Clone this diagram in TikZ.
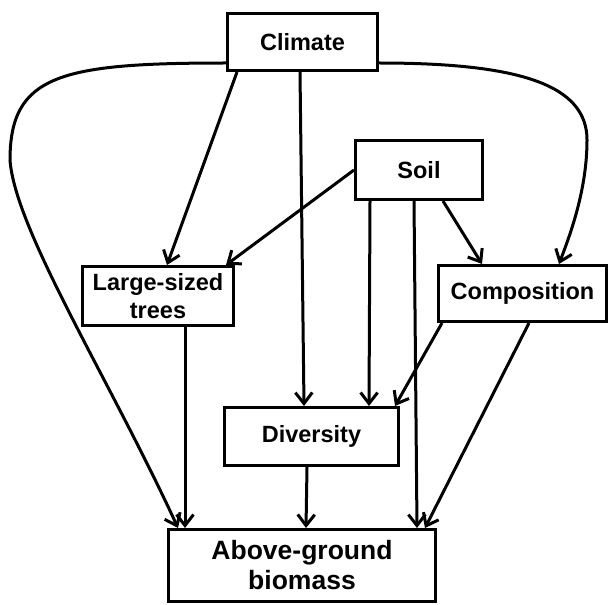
\documentclass[tikz,border=0pt]{standalone}
\usepackage{fontspec}
\setmainfont{Liberation Sans}
\usetikzlibrary{arrows.meta, positioning}
\tikzset{
        ->,  % every connector is directed
        >={Straight Barb[length=11pt,width=17pt]}, % open V heads
        every factor/.style={draw, rectangle, inner sep=0pt, align=center,
                font=\bfseries\fontsize{23.5}{27.5}\selectfont}
        }

\begin{document}
\begin{tikzpicture}[x=1pt, y=-1pt, line width=3pt]
        \useasboundingbox (0,0) rectangle (609,604);
        \node[every factor, minimum width=150, minimum height=57](clim) at (302.5,42){Climate};
        \node[every factor, minimum width=127, minimum height=59](soil) at (419,170){Soil};
        \node[every factor, minimum width=151, minimum height=59](trees) at (158,296){Large-sized\\trees};
        \node[every factor, minimum width=168, minimum height=56](comp) at (522.5,293.5){Composition};
        \node[every factor, minimum width=174, minimum height=58](div) at (311.5,436.5){Diversity};
        \node[every factor, minimum width=267, minimum height=72,
              font=\bfseries\fontsize{26.5}{30}\selectfont](agb) at (302,565.5){Above-ground\\biomass};

        % climate
        \draw ([xshift=-65.5pt]clim.south) -- ([xshift=9pt]trees.north);
        \draw ([xshift=-2.5pt]clim.south) -- ([xshift=-7.5pt]div.north);
        \draw ([yshift=-21pt]clim.east) .. controls (520,63) and (587,85) .. (587,140)
              .. controls (587,190) and (570,235) .. ([xshift=36.5pt]comp.north);
        \draw ([yshift=-21pt]clim.west) .. controls (60,63) and (10,75) .. (10,160)
              .. controls (15,230) and (110,380) .. ([xshift=-124pt]agb.north);

        % soil
        \draw (soil.west) -- ([xshift=68pt]trees.north);
        \draw ([xshift=-49pt]soil.south) -- ([xshift=57.5pt]div.north);
        \draw ([xshift=-5pt]soil.south) -- ([xshift=115pt]agb.north);
        \draw ([xshift=24pt]soil.south) -- ([xshift=-40.5pt]comp.north);

        % composition, trees, diversity
        \draw ([xshift=-80.5pt]comp.south) -- ([xshift=83.5pt]div.north);
        \draw ([xshift=6.5pt]comp.south) -- ([xshift=123pt]agb.north);
        \draw ([xshift=27pt]trees.south) -- ([xshift=-117pt]agb.north);
        \draw ([xshift=-4.5pt]div.south) -- ([xshift=4pt]agb.north);
\end{tikzpicture}
\end{document}
